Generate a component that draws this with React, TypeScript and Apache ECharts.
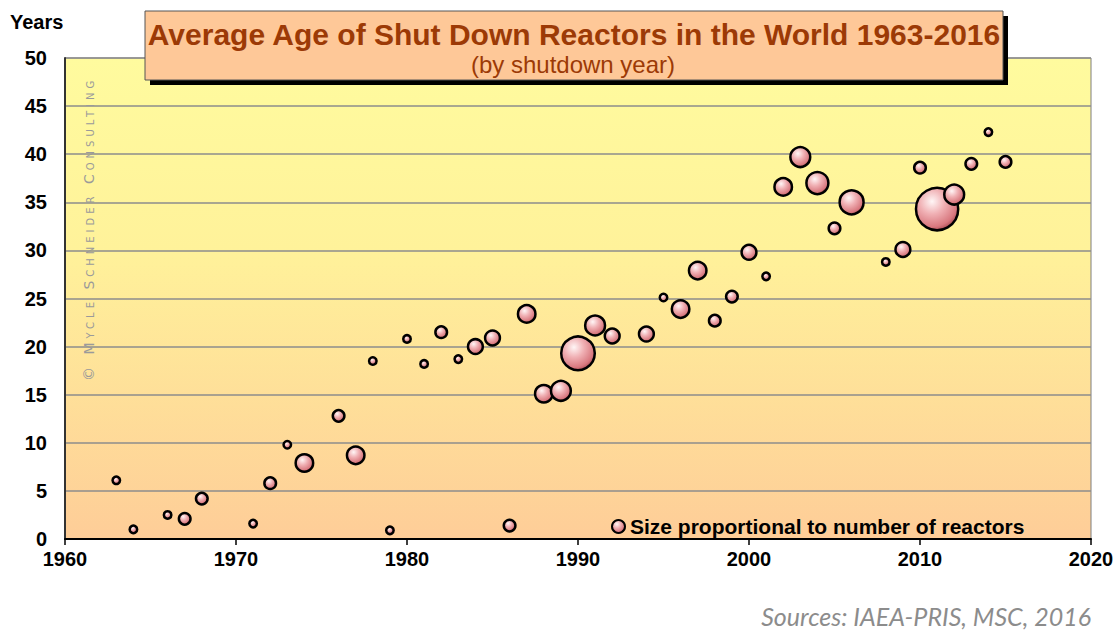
import React, { useEffect, useRef } from "react";
import * as echarts from "echarts";

const years = [1963, 1964, 1966, 1967, 1968, 1971, 1972, 1973, 1974, 1976, 1977, 1978, 1979, 1980, 1981, 1982, 1983, 1984, 1985, 1986, 1987, 1988, 1989, 1990, 1991, 1992, 1994, 1995, 1996, 1997, 1998, 1999, 2000, 2001, 2002, 2003, 2004, 2005, 2006, 2008, 2009, 2010, 2011, 2012, 2013, 2014, 2015];
const avgAge = [6.1, 1.0, 2.5, 2.1, 4.2, 1.6, 5.8, 9.8, 7.9, 12.8, 8.7, 18.5, 0.9, 20.8, 18.2, 21.5, 18.7, 20.0, 20.9, 1.4, 23.4, 15.1, 15.4, 19.3, 22.2, 21.1, 21.3, 25.1, 23.9, 27.9, 22.7, 25.2, 29.8, 27.3, 36.6, 39.7, 37.0, 32.3, 35.0, 28.8, 30.1, 38.6, 34.3, 35.8, 39.0, 42.3, 39.2];
const reactorCount = [1, 1, 1, 2, 2, 1, 2, 1, 4, 2, 4, 1, 1, 1, 1, 2, 1, 3, 3, 2, 4, 4, 5, 13, 5, 3, 3, 1, 4, 4, 2, 2, 3, 1, 4, 5, 6, 2, 7, 1, 3, 2, 20, 5, 2, 1, 2];

const yTicks = [0, 50, 5];
const xTicks = [1960, 2020, 10];

const titleText = "Average Age of Shut Down Reactors in the World 1963-2016";
const subtitleText = "(by shutdown year)";
const legendText = "Size proportional to number of reactors";
const sourceText = "Sources: IAEA-PRIS, MSC, 2016";
const watermarkText = "© Mycle Schneider Consulting";

const FONT = "'Liberation Sans', Arial, sans-serif";

export default function App() {
  const ref = useRef<HTMLDivElement>(null);
  useEffect(() => {
    if (!ref.current) return;
    const chart = echarts.init(ref.current, null, { renderer: "svg" });
    const bubbleColor = new echarts.graphic.RadialGradient(0.38, 0.32, 0.75, [
      { offset: 0, color: "#fff6f6" },
      { offset: 0.4, color: "#f0b0b4" },
      { offset: 0.8, color: "#d8787f" },
      { offset: 1, color: "#9c3f47" },
    ]);
    const data = years.map((y, i) => [y, avgAge[i], reactorCount[i]]);
    chart.setOption({
      animation: false,
      backgroundColor: "#ffffff",
      grid: {
        left: 65,
        right: 28,
        top: 58,
        bottom: 93,
        show: true,
        borderColor: "#7f7f7f",
        borderWidth: 1,
        backgroundColor: new echarts.graphic.LinearGradient(0, 0, 0, 1, [
          { offset: 0, color: "#fffb9e" },
          { offset: 0.4, color: "#fff29a" },
          { offset: 1, color: "#fecd98" },
        ]),
      },
      legend: {
        show: true,
        left: 606,
        top: 511,
        icon: "circle",
        itemWidth: 13,
        itemHeight: 13,
        data: [legendText],
        textStyle: { fontFamily: FONT, fontWeight: "bold", fontSize: 21, color: "#000" },
      },
      xAxis: {
        type: "value",
        min: xTicks[0],
        max: xTicks[1],
        interval: xTicks[2],
        axisLine: { show: true, lineStyle: { color: "#000", width: 2 } },
        axisTick: { show: true, inside: false, length: 6, lineStyle: { color: "#000", width: 1.5 } },
        axisLabel: {
          fontFamily: FONT,
          fontWeight: "bold",
          fontSize: 20,
          color: "#000",
          margin: 10,
          formatter: (v: number) => String(v),
        },
        splitLine: { show: false },
      },
      yAxis: {
        type: "value",
        min: yTicks[0],
        max: yTicks[1],
        interval: yTicks[2],
        axisLine: { show: true, lineStyle: { color: "#333", width: 2 } },
        axisTick: { show: false },
        axisLabel: { fontFamily: FONT, fontWeight: "bold", fontSize: 20, color: "#000", margin: 18 },
        splitLine: { show: true, lineStyle: { color: "#8c8c8c", width: 1.5 } },
      },
      series: [
        {
          name: legendText,
          type: "scatter",
          data,
          symbol: "circle",
          symbolSize: (v: number[]) => 10 * Math.sqrt(v[2]) - 2.5,
          itemStyle: {
            color: bubbleColor,
            borderColor: "#000",
            borderWidth: 2.5,
            opacity: 1,
          },
          z: 3,
        },
      ],
      graphic: [
        {
          type: "text",
          left: 10,
          top: 12,
          style: { text: "Years", font: `bold 20px ${FONT}`, fill: "#000" },
        },
        {
          type: "text",
          x: 89,
          y: 381,
          rotation: Math.PI / 2,
          style: {
            text: watermarkText,
            font: "small-caps 14px 'DejaVu Sans', sans-serif",
            fill: "#9a9a9a",
            verticalAlign: "middle",
            align: "left",
          },
          z: 1,
        },
        {
          type: "rect",
          shape: { x: 150, y: 16, width: 858, height: 69 },
          style: { fill: "#000" },
          z: 10,
        },
        {
          type: "rect",
          shape: { x: 145, y: 11, width: 858, height: 69 },
          style: { fill: "#fec898", stroke: "#555", lineWidth: 1 },
          z: 11,
        },
        {
          type: "text",
          x: 574,
          y: 34,
          style: {
            text: titleText,
            font: `bold 30px ${FONT}`,
            fill: "#9c3a06",
            align: "center",
            verticalAlign: "middle",
          },
          z: 12,
        },
        {
          type: "text",
          x: 573,
          y: 64,
          style: {
            text: subtitleText,
            font: `24px ${FONT}`,
            fill: "#9c3a06",
            align: "center",
            verticalAlign: "middle",
          },
          z: 12,
        },
        {
          type: "text",
          right: 28,
          top: 603,
          style: {
            text: sourceText,
            font: `italic 25px Lato, sans-serif`,
            fill: "#8c8c8c",
          },
        },
      ],
    });
    const texts = ref.current.querySelectorAll("text");
    texts.forEach((t) => {
      if ((t.textContent || "").indexOf("Mycle") >= 0) {
        (t as SVGTextElement).style.letterSpacing = "4px";
        (t as SVGTextElement).style.fontVariant = "small-caps";
      }
    });
    return () => chart.dispose();
  }, []);
  return (
    <div
      ref={ref}
      style={{ position: "absolute", left: 0, top: 0, width: 1119, height: 632 }}
    />
  );
}
